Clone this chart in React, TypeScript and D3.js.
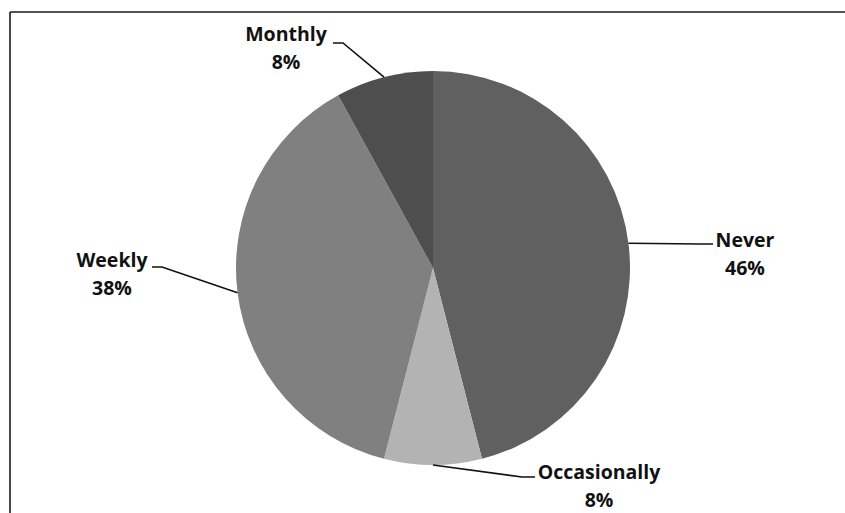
import React from "react";
import * as d3 from "d3";

// Survey frequency breakdown
const categories = ["Never", "Occasionally", "Weekly", "Monthly"];
const percents = [46, 8, 38, 8];
const sliceColors = ["#606060", "#b3b3b3", "#808080", "#4e4e4e"];

const W = 845;
const H = 513;
const cx = 433;
const cy = 268;
const radius = 197;

// Label anchor (centre of text block) and leader-line elbow/end per category
const labelLayout: Record<string, { x: number; y: number; elbow: [number, number]; end: [number, number] }> = {
  Never: { x: 745, y: 247, elbow: [700, 244], end: [713, 244] },
  Occasionally: { x: 599, y: 479, elbow: [522, 477], end: [535, 477] },
  Weekly: { x: 112, y: 267, elbow: [162, 267], end: [152, 267] },
  Monthly: { x: 286, y: 41, elbow: [343, 43], end: [333, 43] },
};

export default function App() {
  const data = categories.map((c, i) => ({ name: c, value: percents[i], color: sliceColors[i] }));
  const pie = d3
    .pie<{ name: string; value: number; color: string }>()
    .value((d) => d.value)
    .sort(null)
    .startAngle(0)
    .endAngle(2 * Math.PI);
  const arcs = pie(data);
  const arc = d3
    .arc<d3.PieArcDatum<{ name: string; value: number; color: string }>>()
    .innerRadius(0)
    .outerRadius(radius);

  const fmt = d3.format(".0%");

  return (
    <svg
      width={W}
      height={H}
      style={{ position: "absolute", left: 0, top: 0, background: "#fff" }}
      fontFamily="'Open Sans', sans-serif"
    >
      <rect x={0} y={0} width={W} height={H} fill="#fff" />
      {/* frame edges */}
      <line x1={10} y1={12} x2={W} y2={12} stroke="#1a1a1a" strokeWidth={1.6} />
      <line x1={10} y1={12} x2={10} y2={H} stroke="#1a1a1a" strokeWidth={1.6} />

      <g transform={`translate(${cx},${cy})`}>
        {arcs.map((a) => (
          <path key={a.data.name} d={arc(a) || ""} fill={a.data.color} />
        ))}
      </g>

      {arcs.map((a) => {
        const mid = (a.startAngle + a.endAngle) / 2;
        const sx = cx + radius * Math.sin(mid);
        const sy = cy - radius * Math.cos(mid);
        const L = labelLayout[a.data.name];
        const pts: [number, number][] = [[sx, sy], L.elbow, L.end];
        return (
          <g key={a.data.name}>
            <path d={d3.line()(pts) || ""} fill="none" stroke="#111" strokeWidth={1.6} />
            <text
              x={L.x}
              y={L.y}
              textAnchor="middle"
              fontSize={19.5}
              fontWeight={700}
              fill="#111"
            >
              {a.data.name}
            </text>
            <text
              x={L.x}
              y={L.y + 28}
              textAnchor="middle"
              fontSize={19.5}
              fontWeight={700}
              fill="#111"
            >
              {fmt(a.data.value / 100)}
            </text>
          </g>
        );
      })}
    </svg>
  );
}
